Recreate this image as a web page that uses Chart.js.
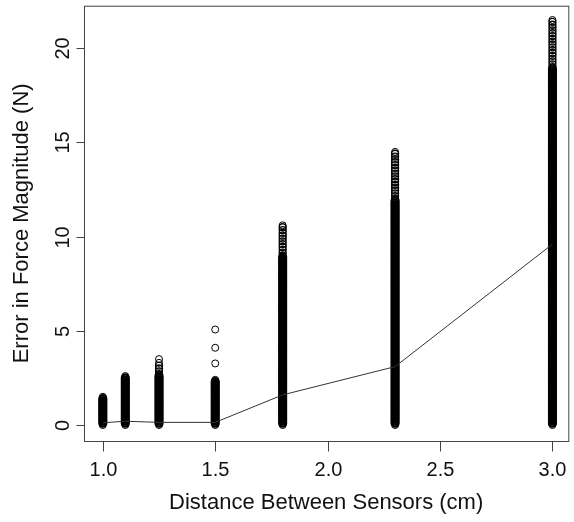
<!DOCTYPE html>
<html>
<head>
<meta charset="utf-8">
<title>Error in Force Magnitude vs Distance Between Sensors</title>
<script src="https://cdn.jsdelivr.net/npm/chart.js@4.4.1/dist/chart.umd.min.js"></script>
<style>
  html, body { margin: 0; padding: 0; background: #fff; }
  #wrap { width: 574px; height: 522px; }
</style>
</head>
<body>
<div id="wrap"><canvas id="chart" width="574" height="522"></canvas></div>
<script>
// sensor spacings (cm) and the mean error line
const distances = [1.0, 1.1, 1.25, 1.5, 1.8, 2.3, 3.0];
const meanError = [0.12, 0.2, 0.14, 0.14, 1.6, 3.1, 9.6];

const errAt1_0 = [0, 0.1, 0.2, 0.3, 0.4, 0.5, 0.6, 0.7, 0.8, 0.9, 1.0, 1.1, 1.2, 1.3, 1.4, 1.5];
const errAt1_1 = [0, 0.1, 0.2, 0.3, 0.4, 0.5, 0.6, 0.7, 0.8, 0.9, 1.0, 1.1, 1.2, 1.3, 1.4, 1.5,
  1.6, 1.7, 1.8, 1.9, 2.0, 2.1, 2.2, 2.3, 2.4, 2.5, 2.6];
const errAt1_25 = [0, 0.1, 0.2, 0.3, 0.4, 0.5, 0.6, 0.7, 0.8, 0.9, 1.0, 1.1, 1.2, 1.3, 1.4, 1.5,
  1.6, 1.7, 1.8, 1.9, 2.0, 2.1, 2.2, 2.3, 2.4, 2.5, 2.6, 2.7, 2.85, 3.0, 3.15, 3.3, 3.5];
const errAt1_5 = [0, 0.1, 0.2, 0.3, 0.4, 0.5, 0.6, 0.7, 0.8, 0.9, 1.0, 1.1, 1.2, 1.3, 1.4, 1.5,
  1.6, 1.7, 1.8, 1.9, 2.0, 2.1, 2.2, 2.3, 2.4, 3.27, 4.1, 5.07];
const errAt1_8 = [0, 0.1, 0.2, 0.3, 0.4, 0.5, 0.6, 0.7, 0.8, 0.9, 1.0, 1.1, 1.2, 1.3, 1.4, 1.5,
  1.6, 1.7, 1.8, 1.9, 2.0, 2.1, 2.2, 2.3, 2.4, 2.5, 2.6, 2.7, 2.8, 2.9, 3.0, 3.1, 3.2, 3.3,
  3.4, 3.5, 3.6, 3.7, 3.8, 3.9, 4.0, 4.1, 4.2, 4.3, 4.4, 4.5, 4.6, 4.7, 4.8, 4.9, 5.0, 5.1,
  5.2, 5.3, 5.4, 5.5, 5.6, 5.7, 5.8, 5.9, 6.0, 6.1, 6.2, 6.3, 6.4, 6.5, 6.6, 6.7, 6.8, 6.9,
  7.0, 7.1, 7.2, 7.3, 7.4, 7.5, 7.6, 7.7, 7.8, 7.9, 8.0, 8.1, 8.2, 8.3, 8.4, 8.5, 8.6, 8.7,
  8.8, 8.9, 9.0, 9.15, 9.3, 9.45, 9.6, 9.75, 9.9, 10.05, 10.2, 10.35, 10.5, 10.6];
const errAt2_3 = [0, 0.1, 0.2, 0.3, 0.4, 0.5, 0.6, 0.7, 0.8, 0.9, 1.0, 1.1, 1.2, 1.3, 1.4, 1.5,
  1.6, 1.7, 1.8, 1.9, 2.0, 2.1, 2.2, 2.3, 2.4, 2.5, 2.6, 2.7, 2.8, 2.9, 3.0, 3.1, 3.2, 3.3,
  3.4, 3.5, 3.6, 3.7, 3.8, 3.9, 4.0, 4.1, 4.2, 4.3, 4.4, 4.5, 4.6, 4.7, 4.8, 4.9, 5.0, 5.1,
  5.2, 5.3, 5.4, 5.5, 5.6, 5.7, 5.8, 5.9, 6.0, 6.1, 6.2, 6.3, 6.4, 6.5, 6.6, 6.7, 6.8, 6.9,
  7.0, 7.1, 7.2, 7.3, 7.4, 7.5, 7.6, 7.7, 7.8, 7.9, 8.0, 8.1, 8.2, 8.3, 8.4, 8.5, 8.6, 8.7,
  8.8, 8.9, 9.0, 9.1, 9.2, 9.3, 9.4, 9.5, 9.6, 9.7, 9.8, 9.9, 10.0, 10.1, 10.2, 10.3, 10.4,
  10.5, 10.6, 10.7, 10.8, 10.9, 11.0, 11.1, 11.2, 11.3, 11.4, 11.5, 11.6, 11.7, 11.8, 11.9,
  12.0, 12.15, 12.3, 12.45, 12.6, 12.75, 12.9, 13.05, 13.2, 13.35, 13.5, 13.65, 13.8, 13.95,
  14.1, 14.25, 14.4, 14.5];
const errAt3_0 = [0, 0.1, 0.2, 0.3, 0.4, 0.5, 0.6, 0.7, 0.8, 0.9, 1.0, 1.1, 1.2, 1.3, 1.4, 1.5,
  1.6, 1.7, 1.8, 1.9, 2.0, 2.1, 2.2, 2.3, 2.4, 2.5, 2.6, 2.7, 2.8, 2.9, 3.0, 3.1, 3.2, 3.3,
  3.4, 3.5, 3.6, 3.7, 3.8, 3.9, 4.0, 4.1, 4.2, 4.3, 4.4, 4.5, 4.6, 4.7, 4.8, 4.9, 5.0, 5.1,
  5.2, 5.3, 5.4, 5.5, 5.6, 5.7, 5.8, 5.9, 6.0, 6.1, 6.2, 6.3, 6.4, 6.5, 6.6, 6.7, 6.8, 6.9,
  7.0, 7.1, 7.2, 7.3, 7.4, 7.5, 7.6, 7.7, 7.8, 7.9, 8.0, 8.1, 8.2, 8.3, 8.4, 8.5, 8.6, 8.7,
  8.8, 8.9, 9.0, 9.1, 9.2, 9.3, 9.4, 9.5, 9.6, 9.7, 9.8, 9.9, 10.0, 10.1, 10.2, 10.3, 10.4,
  10.5, 10.6, 10.7, 10.8, 10.9, 11.0, 11.1, 11.2, 11.3, 11.4, 11.5, 11.6, 11.7, 11.8, 11.9,
  12.0, 12.1, 12.2, 12.3, 12.4, 12.5, 12.6, 12.7, 12.8, 12.9, 13.0, 13.1, 13.2, 13.3, 13.4,
  13.5, 13.6, 13.7, 13.8, 13.9, 14.0, 14.1, 14.2, 14.3, 14.4, 14.5, 14.6, 14.7, 14.8, 14.9,
  15.0, 15.1, 15.2, 15.3, 15.4, 15.5, 15.6, 15.7, 15.8, 15.9, 16.0, 16.1, 16.2, 16.3, 16.4,
  16.5, 16.6, 16.7, 16.8, 16.9, 17.0, 17.1, 17.2, 17.3, 17.4, 17.5, 17.6, 17.7, 17.8, 17.9,
  18.0, 18.1, 18.2, 18.3, 18.4, 18.5, 18.6, 18.7, 18.8, 18.9, 19.0, 19.15, 19.3, 19.45, 19.6,
  19.75, 19.9, 20.05, 20.2, 20.35, 20.5, 20.65, 20.8, 20.95, 21.1, 21.25, 21.4, 21.5];

const errColumns = [errAt1_0, errAt1_1, errAt1_25, errAt1_5, errAt1_8, errAt2_3, errAt3_0];

// axis ticks
const xTicks = [1.0, 1.5, 2.0, 2.5, 3.0];
const yTicks = [0, 5, 10, 15, 20];

const xTitle = 'Distance Between Sensors (cm)';
const yTitle = 'Error in Force Magnitude (N)';

// build scatter points from the columns; remember how far each one is from its neighbours
const scatterPoints = [];
const spacing = [];
errColumns.forEach(function(col, i) {
  col.forEach(function(v, j) {
    scatterPoints.push({ x: distances[i], y: v });
    const below = j > 0 ? v - col[j - 1] : Infinity;
    const above = j < col.length - 1 ? col[j + 1] - v : Infinity;
    spacing.push(Math.max(below, above));
  });
});
const linePoints = distances.map(function(d, i) { return { x: d, y: meanError[i] }; });

// overlapping rings pile up into solid black, lone rings stay thin
function ringWidth(c) {
  const s = spacing[c.dataIndex];
  if (s <= 0.11) return 2.2;
  if (s <= 0.16) return 1.3;
  return 1;
}

const tickFont = '20px "Liberation Sans", Arial, sans-serif';
const titleFont = '22px "Liberation Sans", Arial, sans-serif';

// R-style box, ticks and labels
const rAxes = {
  id: 'rAxes',
  afterDraw: function(chart) {
    const ctx = chart.ctx;
    const area = chart.chartArea;
    const xs = chart.scales.x;
    const ys = chart.scales.y;
    ctx.save();
    ctx.strokeStyle = '#444';
    ctx.lineWidth = 1;
    ctx.strokeRect(area.left + 0.5, area.top + 0.5, area.right - area.left, area.bottom - area.top);

    ctx.fillStyle = '#111';
    ctx.font = tickFont;
    // x axis
    ctx.textAlign = 'center';
    ctx.textBaseline = 'middle';
    xTicks.forEach(function(t) {
      const px = Math.round(xs.getPixelForValue(t)) + 0.5;
      ctx.beginPath();
      ctx.moveTo(px, area.bottom + 0.5);
      ctx.lineTo(px, area.bottom + 10.5);
      ctx.stroke();
      ctx.fillText(t.toFixed(1), px, 470);
    });
    // y axis
    yTicks.forEach(function(t) {
      const py = Math.round(ys.getPixelForValue(t)) + 0.5;
      ctx.beginPath();
      ctx.moveTo(area.left + 0.5, py);
      ctx.lineTo(area.left - 7.5, py);
      ctx.stroke();
      ctx.save();
      ctx.translate(63, py);
      ctx.rotate(-Math.PI / 2);
      ctx.fillText(String(t), 0, 0);
      ctx.restore();
    });
    // titles, centred on the plot box like R does
    ctx.font = titleFont;
    ctx.fillText(xTitle, (area.left + area.right) / 2, 503);
    ctx.save();
    ctx.translate(22, (area.top + area.bottom) / 2);
    ctx.rotate(-Math.PI / 2);
    ctx.fillText(yTitle, 0, 0);
    ctx.restore();
    ctx.restore();
  }
};

new Chart(document.getElementById('chart'), {
  data: {
    datasets: [
      {
        type: 'line',
        data: linePoints,
        borderColor: '#333',
        borderWidth: 1,
        pointRadius: 0,
        tension: 0,
        fill: false
      },
      {
        type: 'scatter',
        data: scatterPoints,
        pointStyle: 'circle',
        pointRadius: 3.5,
        pointBorderWidth: ringWidth,
        pointBorderColor: '#000',
        pointBackgroundColor: 'rgba(0,0,0,0)',
        pointHoverRadius: 3.5
      }
    ]
  },
  options: {
    responsive: false,
    animation: false,
    devicePixelRatio: 1,
    layout: { padding: { left: 84, right: 1, top: 5, bottom: 81 } },
    plugins: { legend: { display: false }, tooltip: { enabled: false } },
    scales: {
      x: { type: 'linear', display: false, min: 0.9163, max: 3.0705 },
      y: { type: 'linear', display: false, min: -0.848, max: 22.26 }
    }
  },
  plugins: [rAxes]
});
</script>
</body>
</html>
